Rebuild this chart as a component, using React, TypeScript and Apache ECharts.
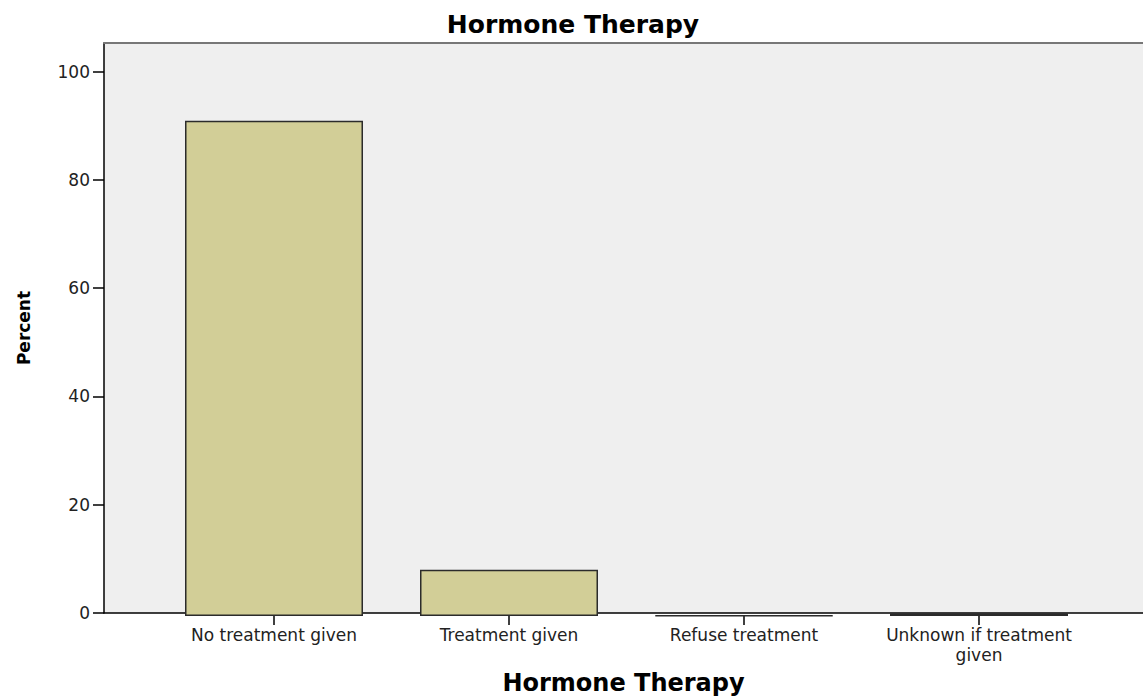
import React, { useEffect, useRef } from "react";
import * as echarts from "echarts";

const categories = [
  "No treatment given",
  "Treatment given",
  "Refuse treatment",
  "Unknown if treatment\ngiven",
];
const percentValues = [91.0, 8.5, 0.1, 0.5];
const yTicks = [0, 20, 40, 60, 80, 100];
const chartTitle = "Hormone Therapy";
const xAxisTitle = "Hormone Therapy";
const yAxisTitle = "Percent";

const FONT = "DejaVu Sans";
const Y_MAX = 105.3;

export default function App() {
  const ref = useRef<HTMLDivElement>(null);

  useEffect(() => {
    if (!ref.current) return;
    const chart = echarts.init(ref.current, undefined, { renderer: "svg" });
    chart.setOption({
      animation: false,
      backgroundColor: "#ffffff",
      graphic: [
        {
          type: "text",
          x: 573,
          y: 24,
          style: {
            text: chartTitle,
            fontFamily: FONT,
            fontWeight: "bold",
            fontSize: 25,
            fill: "#000",
            align: "center",
            verticalAlign: "middle",
          },
        },
      ],
      grid: [
        {
          left: 104,
          right: -8,
          top: 43,
          bottom: 84,
          show: true,
          backgroundColor: "#efefef",
          borderWidth: 0,
        },
        {
          left: 156.5,
          width: 940,
          top: 43,
          bottom: 84,
        },
      ],
      xAxis: [
        {
          gridIndex: 0,
          type: "value",
          min: 0,
          max: 1,
          position: "bottom",
          axisLine: { show: true, lineStyle: { color: "#000", width: 1.5 } },
          axisTick: { show: false },
          axisLabel: { show: false },
          splitLine: { show: false },
          name: xAxisTitle,
          nameLocation: "middle",
          nameGap: 58,
          nameTextStyle: {
            fontFamily: FONT,
            fontWeight: "bold",
            fontSize: 24,
            color: "#000",
          },
        },
        {
          gridIndex: 0,
          type: "value",
          min: 0,
          max: 1,
          position: "top",
          axisLine: { show: true, lineStyle: { color: "#777", width: 2 } },
          axisTick: { show: false },
          axisLabel: { show: false },
          splitLine: { show: false },
        },
        {
          gridIndex: 1,
          type: "category",
          data: categories,
          position: "bottom",
          axisLine: { show: false },
          axisTick: {
            show: true,
            alignWithLabel: true,
            interval: 0,
            length: 9,
            lineStyle: { color: "#000", width: 1.5 },
          },
          axisLabel: {
            interval: 0,
            fontFamily: FONT,
            fontSize: 17,
            color: "#222",
            margin: 9,
            lineHeight: 20,
          },
          splitLine: { show: false },
        },
      ],
      yAxis: [
        {
          gridIndex: 0,
          type: "value",
          min: 0,
          max: Y_MAX,
          interval: 20,
          axisLine: { show: true, lineStyle: { color: "#000", width: 1.5 } },
          axisTick: {
            show: true,
            length: 11,
            customValues: yTicks,
            lineStyle: { color: "#000", width: 1.5 },
          },
          axisLabel: {
            customValues: yTicks,
            fontFamily: FONT,
            fontSize: 17,
            color: "#222",
            margin: 14,
          },
          splitLine: { show: false },
          name: yAxisTitle,
          nameLocation: "middle",
          nameRotate: 90,
          nameGap: 72,
          nameTextStyle: {
            fontFamily: FONT,
            fontWeight: "bold",
            fontSize: 17,
            color: "#000",
          },
        },
        {
          gridIndex: 1,
          type: "value",
          min: 0,
          max: Y_MAX,
          show: false,
          splitLine: { show: false },
        },
      ],
      series: [
        {
          type: "bar",
          xAxisIndex: 2,
          yAxisIndex: 1,
          data: percentValues,
          barWidth: 178,
          itemStyle: {
            color: "#d2ce97",
            borderColor: "#2b2b2b",
            borderWidth: 1.5,
          },
        },
      ],
    });
    return () => chart.dispose();
  }, []);

  return (
    <div
      ref={ref}
      style={{ position: "fixed", left: 0, top: 0, width: 1143, height: 700 }}
    />
  );
}
